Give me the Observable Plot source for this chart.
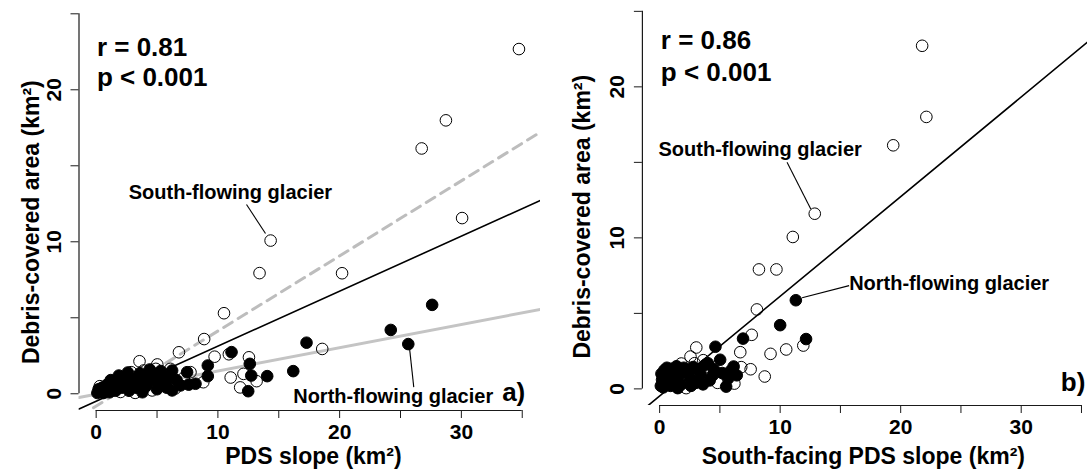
<!DOCTYPE html>
<html><head><meta charset="utf-8">
<script src="https://cdn.jsdelivr.net/npm/d3@7"></script>
<script src="https://cdn.jsdelivr.net/npm/@observablehq/plot@0.6"></script>
<style>
html,body{margin:0;padding:0;background:#fff;}
#wrap{display:flex;width:1087px;height:474px;overflow:hidden;background:#fff;}
#wrap svg{display:block;flex:none;}
</style></head><body><div id="wrap"></div>
<script>
// ---- ticks ----
const xTicks = [0, 5, 10, 15, 20, 25, 30, 35];
const yTicks = [0, 5, 10, 15, 20, 25];

// ---- panel a: PDS slope vs debris-covered area ----
const aSouth = [[34.73,22.68],[28.73,17.99],[26.74,16.14],[30.06,11.56],[14.33,10.08],[13.42,7.94],[20.2,7.93],[10.5,5.3],[8.87,3.6],[18.57,2.95],[6.8,2.73],[9.73,2.44],[10.9,2.6],[12.55,2.4],[12.1,1.31],[11.05,1.07],[13.18,0.83],[11.83,0.42],[8.8,0.76],[3.56,2.14],[5.02,1.93],[4.9,1.64],[3.9,1.53],[2.88,1.42],[6.1,1.64],[7.75,1.42],[4.6,0.22],[0.63,0.11],[1.1,0.45],[2.0,0.12],[3.2,0.06],[5.5,1.3],[2.5,0.9],[0.3,0.5],[7.2,1.05],[4.1,0.65],[1.6,0.85],[6.5,0.35],[3.4,1.05]];
const aNorth = [[27.6,5.85],[24.2,4.2],[25.64,3.27],[17.28,3.36],[16.19,1.49],[14.05,1.16],[12.74,1.2],[12.62,1.97],[12.49,0.17],[11.12,2.74],[9.17,1.86],[9.17,1.16],[8.16,0.66],[7.6,0.6],[7.47,1.42],[6.93,0.55],[6.24,1.53],[6.24,0.22],[6.0,1.0],[5.6,1.1],[5.28,0.66],[5.0,0.3],[4.9,1.3],[4.46,0.88],[4.4,1.6],[4.1,0.5],[3.64,1.2],[3.6,1.35],[3.5,0.8],[3.3,0.4],[3.0,1.0],[2.9,0.6],[2.7,0.2],[2.6,1.4],[2.4,0.8],[2.3,1.1],[2.1,0.4],[1.86,1.2],[1.8,0.7],[1.6,0.2],[1.4,0.5],[1.3,0.3],[1.2,0.9],[1.1,0.1],[0.9,0.6],[0.8,0.3],[0.63,0.43],[0.6,0.05],[0.5,0.4],[0.3,0.15],[0.2,0.3],[0.1,0.05],[3.8,0.1],[5.8,0.4],[4.3,1.0],[5.3,1.5],[6.6,0.9]];
// fit lines: [intercept, slope]
const aFitAll = [-0.49, 0.362];
const aFitSouth = [-0.81, 0.494];
const aFitNorth = [-0.03, 0.153];

// ---- panel b: south-facing PDS slope vs debris-covered area ----
const bSouth = [[21.78,22.72],[22.13,18.01],[19.38,16.13],[12.87,11.6],[11.05,10.06],[8.24,7.91],[9.69,7.91],[8.07,5.26],[7.64,3.58],[3.04,2.74],[6.69,2.43],[9.2,2.32],[10.5,2.61],[11.92,2.87],[7.55,1.3],[8.72,0.82],[6.77,1.44],[6.2,0.35],[2.56,2.14],[3.62,1.9],[1.8,1.68],[0.95,1.33],[2.2,0.05],[3.5,0.6],[1.2,0.3],[4.8,0.4],[0.5,0.9],[2.9,1.7],[4.2,1.2],[5.6,0.9],[1.5,0.1]];
const bNorth = [[11.3,5.87],[10.0,4.22],[12.15,3.3],[6.92,3.33],[4.63,2.79],[5.02,1.93],[6.14,1.48],[5.9,1.2],[5.52,0.15],[4.15,0.56],[5.2,1.05],[4.5,1.3],[3.8,1.6],[3.4,1.0],[3.0,0.4],[2.8,1.45],[2.5,0.8],[2.2,1.1],[2.0,1.4],[1.8,0.3],[1.6,0.9],[1.4,1.5],[1.2,0.6],[1.0,1.1],[0.9,0.2],[0.7,0.8],[0.5,0.4],[0.4,1.25],[0.3,0.1],[0.2,0.6],[0.1,0.2],[2.6,0.2],[3.6,0.3],[4.4,0.9],[3.2,1.3],[0.6,1.4],[6.4,0.9],[5.7,0.7],[4.0,1.7],[1.5,0.05],[0.15,1.0]];
const bFitAll = [-0.47, 0.66];

// ---- texts ----
const yTitle = "Debris-covered area (km²)";
const aXTitle = "PDS slope (km²)";
const bXTitle = "South-facing PDS slope (km²)";
const aStats = ["r = 0.81", "p < 0.001"];
const bStats = ["r = 0.86", "p < 0.001"];
const southLabel = "South-flowing glacier";
const northLabel = "North-flowing glacier";
const panelTags = ["a)", "b)"];

const FONT = "'Liberation Sans', Arial, Helvetica, sans-serif";
const INK = "#1a1a1a";

function panel(cfg) {
  const fitLine = (coef, dom) => dom.map(x => ({x, y: coef[0] + coef[1] * x}));
  const marks = [
    // x axis line from first to last tick (R style)
    Plot.ruleY([cfg.yDomain[0]], {x1: xTicks[0], x2: xTicks[xTicks.length - 1], stroke: INK, strokeWidth: 1.2}),
    Plot.ruleX([cfg.xDomain[0]], {y1: yTicks[0], y2: yTicks[yTicks.length - 1], stroke: INK, strokeWidth: 1.2}),
    Plot.axisX(xTicks, {label: null, tickSize: 8, tickPadding: 6, fontSize: 21, fontWeight: "bold", stroke: INK, fill: "#000",
      tickFormat: d => d % 10 === 0 ? String(d) : ""}),
    Plot.axisY(yTicks, {label: null, tickSize: 8, tickPadding: 10, tickRotate: -90, fontSize: 21, fontWeight: "bold", stroke: INK, fill: "#000",
      tickFormat: d => d % 10 === 0 ? String(d) : ""}),
  ];
  cfg.fits.forEach(f => marks.push(Plot.line(fitLine(f.coef, cfg.xDomain), {x: "x", y: "y", stroke: f.stroke, strokeWidth: f.width, strokeDasharray: f.dash, clip: true})));
  marks.push(
    Plot.dot(cfg.south, {x: d => d[0], y: d => d[1], r: 5.8, stroke: "#000", strokeWidth: 1, fill: "none"}),
    Plot.dot(cfg.north, {x: d => d[0], y: d => d[1], r: 5.8, stroke: "#000", strokeWidth: 1, fill: "#000"}),
    Plot.link(cfg.leaders, {x1: d => d[0], y1: d => d[1], x2: d => d[2], y2: d => d[3], stroke: "#000", strokeWidth: 1.1}),
    Plot.text(cfg.stats, {x: () => cfg.statsPos[0], y: (d, i) => cfg.statsPos[1 + i], text: d => d, textAnchor: "start", fontSize: 26, fontWeight: "bold", fill: "#000"}),
    Plot.text(cfg.labels, {x: d => d.x, y: d => d.y, text: d => d.text, fontSize: d => d.size, fontWeight: "bold", fill: "#000", textAnchor: "middle"}),
    Plot.text([cfg.xTitle], {x: () => cfg.xTitleX, frameAnchor: "bottom", dy: cfg.xTitleDy, text: d => d, textAnchor: "middle", fontSize: 23, fontWeight: "bold", fill: "#000"}),
    Plot.text([yTitle], {y: () => cfg.yTitleY, frameAnchor: "left", dx: cfg.yTitleDx, rotate: -90, textAnchor: "middle", text: d => d, fontSize: 23, fontWeight: "bold", fill: "#000"})
  );
  return Plot.plot({
    width: cfg.width, height: 474,
    marginLeft: cfg.ml, marginRight: cfg.mr, marginTop: cfg.mt, marginBottom: cfg.mb,
    x: {domain: cfg.xDomain, axis: null},
    y: {domain: cfg.yDomain, axis: null},
    style: {fontFamily: FONT, background: "#fff", overflow: "visible", color: "#000"},
    marks
  });
}

const wrap = document.getElementById("wrap");
wrap.appendChild(panel({
  width: 543, ml: 78.5, mr: 3, mt: 5.7, mb: 64,
  xDomain: [-1.41, 36.5], yDomain: [-1.1, 25.5],
  south: aSouth, north: aNorth,
  fits: [
    {coef: aFitSouth, stroke: "#bdbdbd", width: 3, dash: "10,7"},
    {coef: aFitNorth, stroke: "#c4c4c4", width: 3},
    {coef: aFitAll, stroke: "#000", width: 1.6}
  ],
  stats: aStats, statsPos: [0.06, 22.8, 20.83],
  labels: [
    {text: southLabel, x: 11.03, y: 13.24, size: 20},
    {text: northLabel, x: 24.4, y: -0.18, size: 20},
    {text: panelTags[0], x: 34.3, y: 0.09, size: 26}
  ],
  leaders: [[12.35, 12.45, 13.91, 10.55], [25.75, 2.94, 26.09, 0.44]],
  xTitle: aXTitle, xTitleX: 17.85, xTitleDy: 53,
  yTitleY: 11.29, yTitleDx: -47.5
}));
wrap.appendChild(panel({
  width: 544, ml: 98.9, mr: 0, mt: 3.3, mb: 69,
  xDomain: [-1.43, 35.5], yDomain: [-1.1, 25.5],
  south: bSouth, north: bNorth,
  fits: [{coef: bFitAll, stroke: "#000", width: 1.6}],
  stats: bStats, statsPos: [0.1, 23.07, 20.97],
  labels: [
    {text: southLabel, x: 8.34, y: 15.83, size: 20},
    {text: northLabel, x: 24.02, y: 6.95, size: 20},
    {text: panelTags[1], x: 34.3, y: 0.42, size: 26}
  ],
  leaders: [[10.57, 15.0, 12.54, 11.92], [11.82, 6.03, 15.72, 6.84]],
  xTitle: bXTitle, xTitleX: 16.9, xTitleDy: 58,
  yTitleY: 11.4, yTitleDx: -60
}));
</script></body></html>
